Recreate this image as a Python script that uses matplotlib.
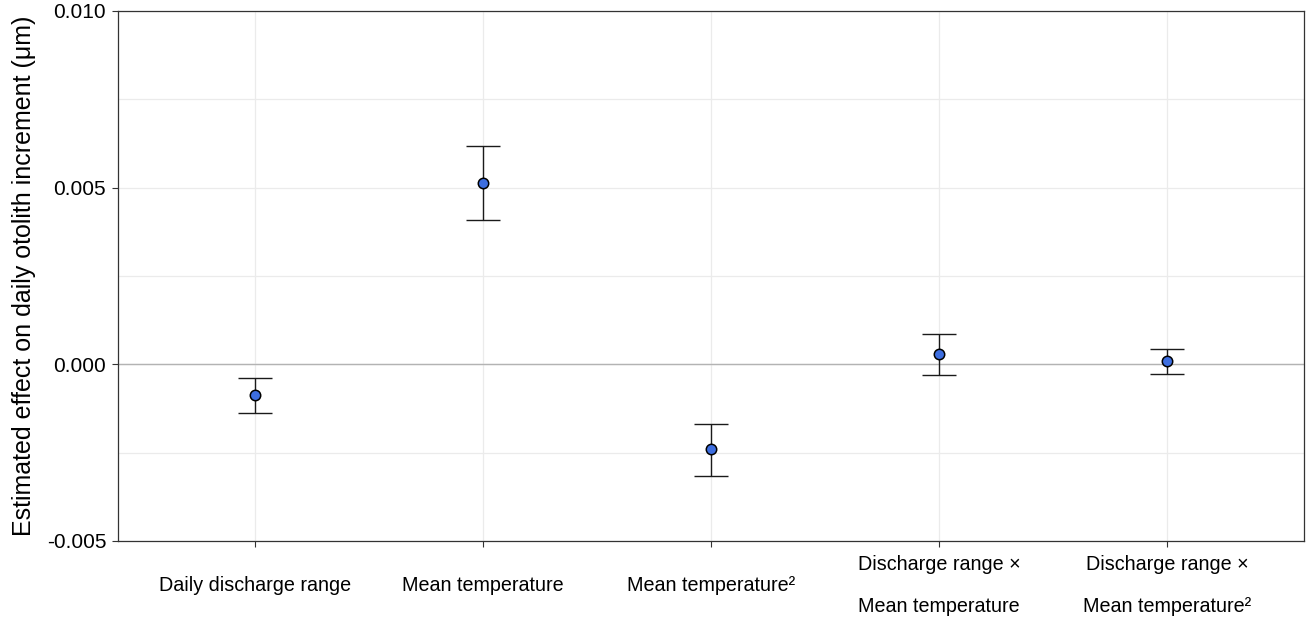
import matplotlib
matplotlib.use("Agg")
import matplotlib.pyplot as plt
from matplotlib.ticker import MultipleLocator, FixedLocator

plt.rcParams['font.family'] = ['Liberation Sans', 'DejaVu Sans']

terms = ["Daily discharge range",
         "Mean temperature",
         "Mean temperature\u00b2",
         "Discharge range \u00d7\nMean temperature",
         "Discharge range \u00d7\nMean temperature\u00b2"]
estimates = [-0.00087, 0.00513, -0.00240, 0.00029, 0.00009]
lower = [-0.00138, 0.00409, -0.00316, -0.00030, -0.00028]
upper = [-0.00039, 0.00618, -0.00169, 0.00086, 0.00043]
y_ticks = [-0.005, 0.000, 0.005, 0.010]

fig = plt.figure(figsize=(13.06, 6.24), dpi=100)
ax = fig.add_axes([118/1306, 1-541/624, (1304-118)/1306, (541-11)/624])

xs = list(range(1, len(terms) + 1))
err_lo = [e - l for e, l in zip(estimates, lower)]
err_hi = [u - e for e, u in zip(estimates, upper)]

ax.axhline(0, color='#b3b3b3', lw=1.0, zorder=1)
ax.errorbar(xs, estimates, yerr=[err_lo, err_hi], fmt='none', ecolor='#1a1a1a',
            elinewidth=1.0, capsize=12, capthick=1.0, zorder=3)
ax.plot(xs, estimates, 'o', ms=7.5, mfc='#3d6ee0', mec='black', mew=1.1, zorder=4)

ax.set_xlim(0.4, 5.6)
ax.set_ylim(-0.005, 0.010)
ax.yaxis.set_major_locator(FixedLocator(y_ticks))
ax.yaxis.set_minor_locator(MultipleLocator(0.0025))
ax.set_yticklabels([f"{v:.3f}" for v in y_ticks])
ax.set_xticks(xs)
ax.set_xticklabels(terms, linespacing=2.55)
for lab in ax.get_xticklabels():
    lab.set_verticalalignment('center')

ax.grid(True, which='major', color='#ebebeb', lw=0.9, zorder=0)
ax.grid(True, which='minor', axis='y', color='#ebebeb', lw=0.9, zorder=0)
ax.set_axisbelow(True)

ax.tick_params(axis='y', which='major', labelsize=15, length=4.5, width=0.8, color='#333333', pad=4)
ax.tick_params(axis='y', which='minor', length=0)
ax.tick_params(axis='x', which='major', labelsize=14.2, length=4.5, width=0.8, color='#333333', pad=27.5)

for s in ax.spines.values():
    s.set_color('#333333')
    s.set_linewidth(0.9)

ax.set_ylabel("Estimated effect on daily otolith increment (\u03bcm)", fontsize=18, labelpad=8)

fig.savefig("out.png", dpi=100)
